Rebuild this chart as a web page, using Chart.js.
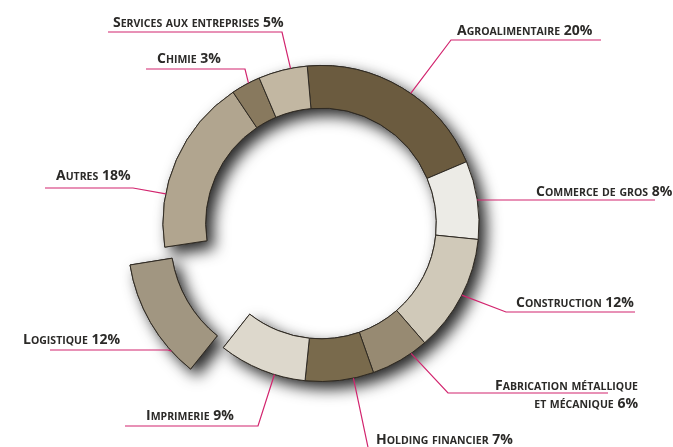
<!DOCTYPE html>
<html>
<head>
<meta charset="utf-8">
<script src="https://cdn.jsdelivr.net/npm/chart.js@4.4.1/dist/chart.umd.min.js"></script>
<style>
    html, body { margin: 0; padding: 0; background: #fff; }
    #wrap { width: 673px; height: 447px; position: relative; }
</style>
</head>
<body>
<div id="wrap"><canvas id="sectorChart"></canvas></div>
<script>
// Data
const sectors = ['Agroalimentaire', 'Commerce de gros', 'Construction', 'Fabrication métallique et mécanique',
    'Holding financier', 'Imprimerie', 'Logistique', 'Autres', 'Chimie', 'Services aux entreprises'];
const shares = [20, 8, 12, 6, 7, 9, 12, 18, 3, 5];
const exploded = 'Logistique';

const colours = ['#6b5b3f', '#ecebe6', '#d0c9b9', '#978a72', '#796a4c',
    '#ddd8cc', '#a19681', '#b1a58f', '#88795e', '#c2b7a2'];

// where each label sits: text baseline, rule (ly, lx0 near ring -> lx1 far end), point along slice
const labelPos = [
    { x: 457, y: 35, align: 'left', ly: 40, lx0: 451, lx1: 601, frac: 0.55 },
    { x: 536, y: 196, align: 'left', ly: 200, lx0: 479, lx1: 655, frac: 0.5 },
    { x: 516, y: 307, align: 'left', ly: 312, lx0: 506, lx1: 635, frac: 0.49 },
    { x: 638, y: 390, align: 'right', ly: 393, lx0: 448, lx1: 608, frac: 0.29, split: 2 },
    { x: 376, y: 444, align: 'left', ly: 452, lx0: 369, lx1: 520, frac: 0.3 },
    { x: 146, y: 420, align: 'left', ly: 426, lx0: 258, lx1: 125, frac: 0.35 },
    { x: 23, y: 344, align: 'left', ly: 350, lx0: 168, lx1: 50, frac: 0.22 },
    { x: 56, y: 180, align: 'left', ly: 188, lx0: 133, lx1: 45, frac: 0.3 },
    { x: 157, y: 63, align: 'left', ly: 69, lx0: 245, lx1: 146, frac: 0.6 },
    { x: 113, y: 27, align: 'left', ly: 32, lx0: 282, lx1: 108, frac: 0.66 }
];

const BIG = 'bold 14px "Open Sans"';
const SMALL = 'bold 10.5px "Open Sans"';

// fake small caps: lower case letters drawn as smaller capitals
function smallCaps(ctx, text, x, y, align) {
    const runs = [];
    for (const ch of text) {
        const low = ch !== ch.toUpperCase();
        const font = low ? SMALL : BIG;
        const c = low ? ch.toUpperCase() : ch;
        const last = runs[runs.length - 1];
        if (last && last.font === font) last.s += c;
        else runs.push({ font: font, s: c });
    }
    let w = 0;
    runs.forEach(r => { ctx.font = r.font; r.w = ctx.measureText(r.s).width; w += r.w; });
    let cx = align === 'right' ? x - w : x;
    runs.forEach(r => { ctx.font = r.font; ctx.fillText(r.s, cx, y); cx += r.w; });
}

// soft drop shadow under the whole ring, drawn once so slices don't double it
const ringShadow = {
    id: 'ringShadow',
    beforeDatasetsDraw(chart) {
        const off = document.createElement('canvas');
        off.width = chart.canvas.width;
        off.height = chart.canvas.height;
        const octx = off.getContext('2d');
        chart.getDatasetMeta(0).data.forEach(arc => arc.draw(octx));
        const ctx = chart.ctx;
        ctx.save();
        ctx.setTransform(1, 0, 0, 1, 0, 0);
        ctx.shadowColor = 'rgba(0, 0, 0, 0.85)';
        ctx.shadowBlur = 15;
        ctx.shadowOffsetX = 7;
        ctx.shadowOffsetY = 7;
        ctx.drawImage(off, 0, 0);
        ctx.restore();
    }
};

const leaderLabels = {
    id: 'leaderLabels',
    afterDraw(chart) {
        const ctx = chart.ctx;
        const arcs = chart.getDatasetMeta(0).data;
        ctx.save();
        arcs.forEach((arc, i) => {
            const p = labelPos[i];
            const a = arc.startAngle + p.frac * (arc.endAngle - arc.startAngle);
            const mid = (arc.startAngle + arc.endAngle) / 2;
            const o = (arc.options.offset || 0) / 4;
            const fix = 1 - Math.sin(Math.min(Math.PI, arc.circumference));
            const r = arc.outerRadius + o * fix;
            const ax = arc.x + Math.cos(mid) * o + Math.cos(a) * r;
            const ay = arc.y + Math.sin(mid) * o + Math.sin(a) * r;

            ctx.strokeStyle = '#d2246e';
            ctx.lineWidth = 1.2;
            ctx.beginPath();
            ctx.moveTo(p.lx1, p.ly);
            ctx.lineTo(p.lx0, p.ly);
            ctx.lineTo(ax, ay);
            ctx.stroke();

            ctx.fillStyle = '#2b2a28';
            ctx.textBaseline = 'alphabetic';
            const text = sectors[i] + ' ' + shares[i] + '%';
            if (p.split) {
                const words = text.split(' ');
                smallCaps(ctx, words.slice(0, p.split).join(' '), p.x, p.y, p.align);
                smallCaps(ctx, words.slice(p.split).join(' '), p.x, p.y + 18, p.align);
            } else {
                smallCaps(ctx, text, p.x, p.y, p.align);
            }
        });
        ctx.restore();
    }
};

const ctx = document.getElementById('sectorChart');

new Chart(ctx, {
    type: 'doughnut',
    data: {
        labels: sectors,
        datasets: [{
            data: shares,
            backgroundColor: colours,
            borderColor: '#2f2a23',
            borderWidth: 1,
            offset: sectors.map(s => s === exploded ? 119 : 0)
        }]
    },
    options: {
        responsive: true,
        maintainAspectRatio: false,
        animation: false,
        rotation: -5,
        cutout: '73%',
        radius: 158,
        layout: { padding: { left: 0, right: 31, top: 0, bottom: 0 } },
        plugins: {
            legend: { display: false },
            tooltip: { enabled: false }
        }
    },
    plugins: [ringShadow, leaderLabels]
});
</script>
</body>
</html>
